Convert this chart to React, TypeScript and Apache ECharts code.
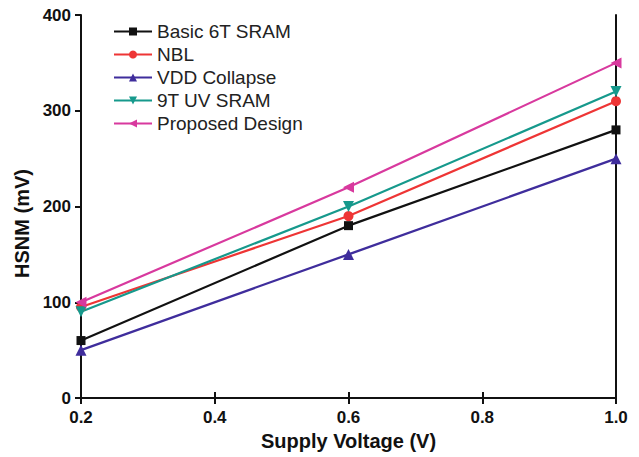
import React, { useEffect, useRef } from "react";
import * as echarts from "echarts";

const voltages = [0.2, 0.6, 1.0];
const basic6T = [60, 180, 280];
const nbl = [95, 190, 310];
const vddCollapse = [50, 150, 250];
const uv9T = [90, 200, 320];
const proposed = [100, 220, 350];

const seriesNames = ["Basic 6T SRAM", "NBL", "VDD Collapse", "9T UV SRAM", "Proposed Design"];

const FONT = "'Liberation Sans', Arial, sans-serif";

export default function App() {
  const ref = useRef<HTMLDivElement>(null);

  useEffect(() => {
    if (!ref.current) return;
    const chart = echarts.init(ref.current, undefined, { renderer: "svg" });

    const defs = [
      { data: basic6T, color: "#111111", symbol: "rect", rotate: 0, size: 9 },
      { data: nbl, color: "#ee3535", symbol: "circle", rotate: 0, size: 10 },
      { data: vddCollapse, color: "#3f2d9c", symbol: "triangle", rotate: 0, size: 11 },
      { data: uv9T, color: "#16998c", symbol: "triangle", rotate: 180, size: 11 },
      { data: proposed, color: "#d8399e", symbol: "triangle", rotate: 90, size: 11 },
    ];

    const axisLine = { show: true, lineStyle: { color: "#111", width: 2 } };
    const tick = { show: true, length: 6, lineStyle: { color: "#111", width: 2 } };

    chart.setOption({
      animation: false,
      backgroundColor: "#ffffff",
      grid: {
        left: 81,
        right: 23,
        top: 15,
        bottom: 59,
        containLabel: false,
        outerBoundsMode: "none",
      },
      legend: {
        orient: "vertical",
        left: 108,
        top: 17,
        itemWidth: 38,
        itemHeight: 10,
        itemGap: 4,
        data: seriesNames,
        textStyle: { fontFamily: FONT, fontSize: 19, color: "#222" },
      },
      xAxis: [
        {
          type: "value",
          min: 0.2,
          max: 1.0,
          interval: 0.2,
          name: "Supply Voltage (V)",
          nameLocation: "middle",
          nameGap: 32,
          nameTextStyle: { fontFamily: FONT, fontSize: 20, fontWeight: "bold", color: "#111" },
          axisLine,
          axisTick: tick,
          axisLabel: {
            fontFamily: FONT,
            fontSize: 17,
            fontWeight: "bold",
            color: "#111",
            margin: 11,
            formatter: (v: number) => v.toFixed(1),
          },
          splitLine: { show: false },
        },
        {
          type: "value",
          position: "top",
          min: 0.2,
          max: 1.0,
          interval: 0.2,
          axisLine,
          axisTick: tick,
          axisLabel: { show: false },
          splitLine: { show: false },
        },
      ],
      yAxis: [
        {
          type: "value",
          min: 0,
          max: 400,
          interval: 100,
          name: "HSNM (mV)",
          nameLocation: "middle",
          nameGap: 48,
          nameTextStyle: {
            fontFamily: FONT,
            fontSize: 20,
            fontWeight: "bold",
            color: "#111",
            padding: [0, 34, 0, 0],
          },
          axisLine,
          axisTick: tick,
          axisLabel: { fontFamily: FONT, fontSize: 17, fontWeight: "bold", color: "#111", margin: 10 },
          splitLine: { show: false },
        },
        {
          type: "value",
          position: "right",
          min: 0,
          max: 400,
          interval: 100,
          axisLine,
          axisTick: { show: false },
          axisLabel: { show: false },
          splitLine: { show: false },
        },
      ],
      series: defs.map((d, i) => ({
        name: seriesNames[i],
        type: "line",
        data: voltages.map((v, j) => [v, d.data[j]]),
        symbol: d.symbol,
        symbolSize: d.size,
        symbolRotate: d.rotate,
        color: d.color,
        lineStyle: { color: d.color, width: 2.2 },
        itemStyle: { color: d.color },
        clip: false,
      })),
    });

    return () => chart.dispose();
  }, []);

  return (
    <div
      ref={ref}
      style={{ position: "absolute", left: 0, top: 0, width: 639, height: 457 }}
    />
  );
}
